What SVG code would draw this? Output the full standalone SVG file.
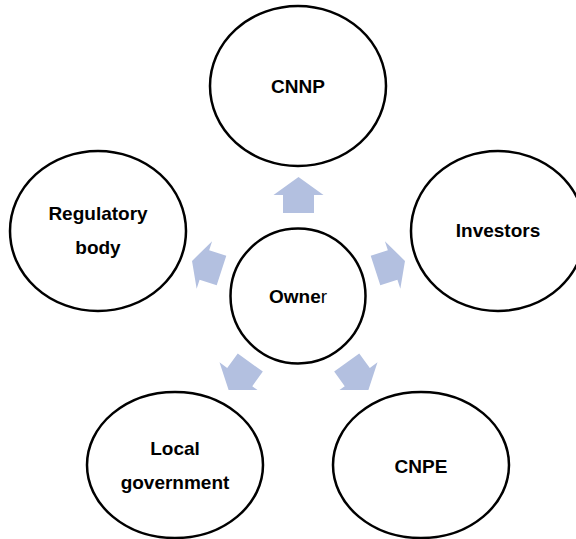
<svg xmlns="http://www.w3.org/2000/svg" width="576" height="539" viewBox="0 0 576 539">
<style>
.node ellipse{fill:#fff;stroke:#000;stroke-width:2.5}
.lbl{font-family:"Liberation Sans",Arial,sans-serif;font-weight:bold;font-size:19px;fill:#000;text-anchor:middle}
.arr{fill:#B3C0E0}
</style>
<defs>
<polygon id="arrL" points="-15.5,0 15.5,0 15.5,-18 25,-18 0,-36 -25,-18 -15.5,-18"/>
<polygon id="arrS" points="-15.5,0 15.5,0 15.5,-18 25,-18 0,-31 -25,-18 -15.5,-18"/>
<clipPath id="cut"><rect x="0" y="0" width="576" height="390"/></clipPath>
</defs>
<rect width="576" height="539" fill="#fff"/>
<g id="connectors" class="arr">
<use href="#arrL" transform="translate(298.5,213)"/>
<use href="#arrS" transform="translate(375.5,270.5) rotate(72)"/>
<use href="#arrS" transform="translate(221.5,270.5) rotate(288)"/>
<g clip-path="url(#cut)">
<use href="#arrL" transform="translate(346.7,362.5) rotate(144)"/>
<use href="#arrL" transform="translate(250.3,362.5) rotate(216)"/>
</g>
</g>
<g id="cnnp" class="node"><ellipse cx="298" cy="86" rx="88" ry="80"/><text class="lbl" x="298" y="93">CNNP</text></g>
<g id="regulatory" class="node"><ellipse cx="98" cy="231" rx="88" ry="80"/><text class="lbl" x="98" y="220">Regulatory</text><text class="lbl" x="98" y="254">body</text></g>
<g id="investors" class="node"><ellipse cx="498" cy="231" rx="87" ry="80"/><text class="lbl" x="498" y="237">Investors</text></g>
<g id="owner" class="node"><ellipse cx="298" cy="296" rx="67.5" ry="67.5"/><text class="lbl" x="298" y="303">Owne<tspan font-weight="normal">r</tspan></text></g>
<g id="localgov" class="node"><ellipse cx="175" cy="465" rx="88" ry="73"/><text class="lbl" x="175" y="455">Local</text><text class="lbl" x="175" y="489">government</text></g>
<g id="cnpe" class="node"><ellipse cx="421" cy="465" rx="88" ry="73"/><text class="lbl" x="421" y="473">CNPE</text></g>
</svg>
